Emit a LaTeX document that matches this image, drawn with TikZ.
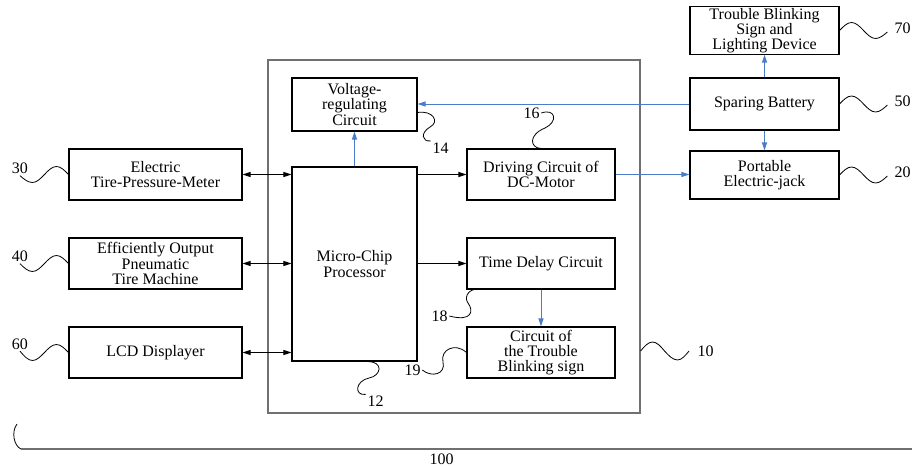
\documentclass[tikz,border=0pt]{standalone}
\usepackage{fontspec}
\setmainfont{Liberation Serif}
\usetikzlibrary{arrows.meta}
\definecolor{framegray}{HTML}{707070}
\definecolor{feedblue}{HTML}{4A7CC8}

\begin{document}
\begin{tikzpicture}[x=0.75pt, y=-0.75pt, >={Triangle[length=6pt,width=3.8pt]}, line width=0.7pt,
    font=\fontsize{12}{11.3}\selectfont,
    block/.style={draw, line width=0.8pt, align=center, inner sep=1pt},
    tag/.style={inner sep=1pt},
    lead/.style={line width=0.6pt},
    feed/.style={->, feedblue}]
  \useasboundingbox (0,0) rectangle (912,466);

  \node[block, draw=framegray, minimum width=279pt, minimum height=264.75pt] (unit) at (454,236.5) {};
  \node[block, minimum width=93.75pt, minimum height=39.75pt] (volt) at (354.5,104.5) {Voltage-\\regulating\\Circuit};
  \node[block, minimum width=93.75pt, minimum height=145.5pt] (micro) at (354.5,264) {Micro-Chip\\Processor};
  \node[block, minimum width=111pt, minimum height=38.25pt] (drive) at (541,174.5) {Driving Circuit of\\DC-Motor};
  \node[block, minimum width=111pt, minimum height=38.25pt] (delay) at (541,263.5) {Time Delay Circuit};
  \node[block, minimum width=111pt, minimum height=38.25pt] (blink) at (541,352.5) {Circuit of\\the Trouble\\Blinking sign};

  \node[block, minimum width=129.75pt, minimum height=38.25pt] (meter) at (155.5,174.5) {Electric\\Tire-Pressure-Meter};
  \node[block, minimum width=129.75pt, minimum height=38.25pt] (pneu) at (155.5,263.5) {Efficiently Output\\Pneumatic\\Tire Machine};
  \node[block, minimum width=129.75pt, minimum height=38.25pt] (lcd) at (155.5,352.5) {LCD Displayer};

  \node[block, minimum width=111.75pt, minimum height=35.25pt] (light) at (764.5,30.5) {Trouble Blinking\\Sign and\\Lighting Device};
  \node[block, minimum width=111.75pt, minimum height=39pt] (battery) at (764.5,104) {Sparing Battery};
  \node[block, minimum width=111.75pt, minimum height=36pt] (jack) at (764.5,175) {Portable\\Electric-jack};

  \draw[<->] (meter.east) -- (meter.east -| micro.west);
  \draw[<->] (pneu.east) -- (pneu.east -| micro.west);
  \draw[<->] (lcd.east) -- (lcd.east -| micro.west);
  \draw[->] (micro.east |- drive.west) -- (drive.west);
  \draw[->] (micro.east |- delay.west) -- (delay.west);
  \draw[feed] (micro.north) -- (volt.south);
  \draw[feed] (battery.west) -- (battery.west -| volt.east);
  \draw[feed] (drive.east) -- (drive.east -| jack.west);
  \draw[feed] (battery.north) -- (light.south);
  \draw[feed] (battery.south) -- (jack.north);
  \draw[feed] (delay.south) -- (blink.north);

  \node[tag] (n30) at (20,168.5) {30};
  \node[tag] (n40) at (20,256.5) {40};
  \node[tag] (n60) at (20,344) {60};
  \node[tag] (n70) at (902.5,28) {70};
  \node[tag] (n50) at (902.5,101) {50};
  \node[tag] (n20) at (902.5,172) {20};
  \node[tag] (n10) at (705.5,351) {10};
  \node[tag] (n12) at (375.5,401.5) {12};
  \node[tag] (n14) at (440.5,148) {14};
  \node[tag] (n16) at (531.5,113) {16};
  \node[tag] (n18) at (439.5,316) {18};
  \node[tag] (n19) at (412.5,370) {19};
  \node[tag] (n100) at (441.5,459) {100};

  \draw[lead] (meter.west) sin ++(-12,-8) cos ++(-12,8) sin ++(-12,8) cos (n30.south);
  \draw[lead] (pneu.west) sin ++(-12,-8) cos ++(-12,8) sin ++(-12,8) cos (n40.south);
  \draw[lead] (lcd.west) sin ++(-12,-8) cos ++(-12,8) sin ++(-12,8) cos (n60.south);
  \draw[lead] (light.east) sin ++(12,-8) cos ++(12,8) sin ++(12,8) cos ([xshift=-4pt,yshift=-3pt]n70.west);
  \draw[lead] (battery.east) sin ++(12,-8) cos ++(12,8) sin ++(12,8) cos ([xshift=-4pt,yshift=-3pt]n50.west);
  \draw[lead] (jack.east) sin ++(12,-8) cos ++(12,8) sin ++(12,8) cos ([xshift=-4pt,yshift=-3pt]n20.west);
  \draw[lead] (unit.east |- n10) sin ++(12,-9) cos ++(12,9) sin ++(13,9) cos ([xshift=-5pt]n10.west);
  \draw[lead] (micro.south -| n12.west) .. controls (385,361) and (381,376) .. (369,378) .. controls (355,381) and (354,396) .. (n12.north west);
  \draw[lead] ([yshift=-6pt]volt.east) .. controls (433,110) and (440,122) .. (430,127) .. controls (420,133) and (422,142) .. (n14.north west);
  \draw[lead] (n16.east) .. controls (556,108) and (558,122) .. (545,128) .. controls (528,135) and (530,148) .. (drive.north);
  \draw[lead] ([xshift=13.5pt]delay.south west) .. controls (470,286) and (463,296) .. (468,303) .. controls (474,311) and (472,322) .. (n18.east);
  \draw[lead] (blink.west) .. controls (455,342) and (440,350) .. (443,362) .. controls (446,374) and (432,378) .. (n19.east);

  \draw[lead] (17,424) .. controls (11,432) and (14,446) .. (21,449);
  \draw[framegray, line width=1.4pt] (21,449) -- (912,449);
\end{tikzpicture}
\end{document}
